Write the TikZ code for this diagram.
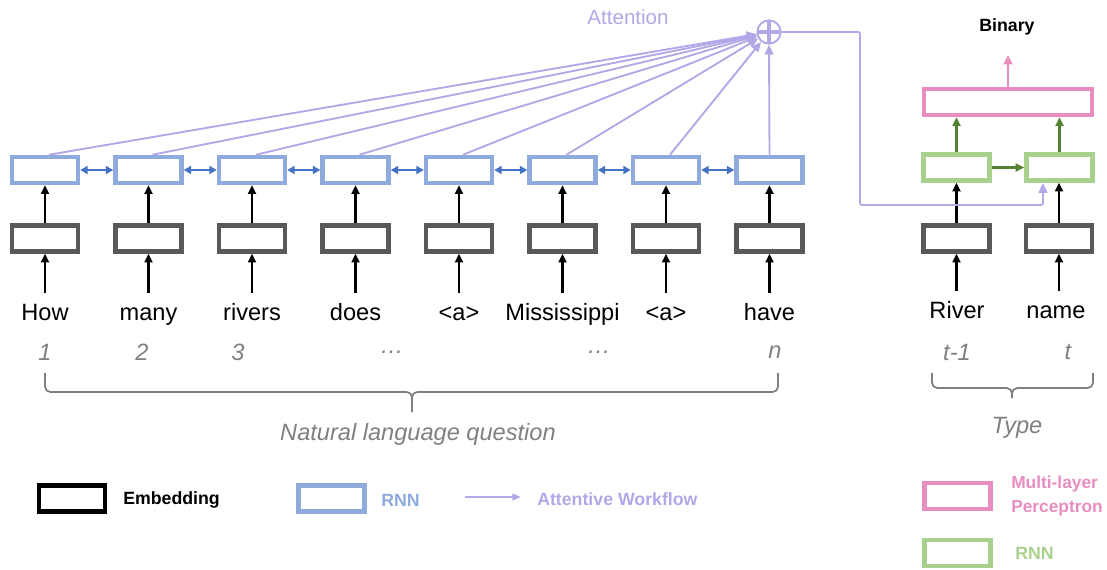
\documentclass[tikz,border=0pt]{standalone}
\usepackage{fontspec}
\setmainfont{Liberation Sans}
\usetikzlibrary{arrows.meta}
\definecolor{rnnblue}{HTML}{8FAADC}
\definecolor{arrblue}{HTML}{4472C4}
\definecolor{attn}{HTML}{B4A7E8}
\definecolor{embgray}{HTML}{595959}
\definecolor{mlppink}{HTML}{E88DBF}
\definecolor{rnngreen}{HTML}{A9D18E}
\definecolor{arrgreen}{HTML}{548235}
\definecolor{txtgray}{HTML}{808080}
\tikzset{
  boxbase/.style={rectangle, inner sep=0pt, minimum width=49.5pt, minimum height=19.5pt, line width=3.4pt},
  rnnbox/.style={boxbase, draw=rnnblue},
  embbox/.style={boxbase, draw=embgray},
  greenbox/.style={boxbase, draw=rnngreen},
  legembbox/.style={boxbase, draw=black},
  word/.style={font=\fontsize{17.7}{20}\selectfont, inner xsep=0pt, inner ysep=7pt, text height=13pt, text depth=0pt},
  idx/.style={font=\fontsize{17.7}{20}\selectfont\itshape, text=txtgray, inner sep=0pt},
  blk/.style={line width=1.7pt, -{Triangle[length=6.5pt,width=6pt]}},
  bidir/.style={draw=arrblue, line width=1.7pt, {Triangle[length=5.5pt,width=6pt]}-{Triangle[length=5.5pt,width=6pt]}},
  attarrow/.style={draw=attn, line width=1.4pt, -{Triangle[length=7.5pt,width=6.5pt]}},
  grn/.style={draw=arrgreen, line width=1.7pt, -{Triangle[length=6.5pt,width=6pt]}},
  brace/.style={draw=txtgray, line width=1.3pt, rounded corners=4pt},
  legtxt/.style={font=\fontsize{13.3}{15.5}\selectfont\bfseries, anchor=west, inner sep=0pt, align=left},
}
\begin{document}
\begin{tikzpicture}[x=0.75pt,y=-0.75pt]
\useasboundingbox (0,0) rectangle (1107,569);
% attention node
\node[circle, draw=attn, line width=1.4pt, minimum size=17.5pt, inner sep=0pt] (plus) at (769,32) {};
\draw[attn, line width=2.8pt] ([yshift=-0.7pt]plus.north) -- ([yshift=0.7pt]plus.south);
\draw[attn, line width=2.8pt] ([xshift=0.7pt]plus.west) -- ([xshift=-0.7pt]plus.east);
\node[font=\fontsize{15.4}{18}\selectfont, text=attn, inner sep=0pt] (atttxt) at (628,17) {Attention};
% question sequence
\foreach \x/\w [count=\i] in {45/How,148.5/many,252/rivers,355.5/does,459/<a>,562.5/Mississippi,666/<a>,769.5/have}{
  \node[rnnbox] (r\i) at (\x,170) {};
  \node[embbox] (e\i) at (\x,238.5) {};
  \node[word, anchor=base] (w\i) at (\x,320) {\w};
  \draw[blk] (e\i.south |- w\i.north) -- (e\i.south);
  \draw[blk] (e\i.north) -- (r\i.south);
}
\foreach \i [evaluate=\i as \j using int(\i+1)] in {1,...,7}{
  \draw[bidir] (r\i.east) -- (r\j.west);
}
\foreach \i in {1,...,7}{
  \draw[attarrow] ([xshift=3pt]r\i.north) -- (plus);
}
\draw[attarrow] (r8.north) -- (plus.south);
% indices
\node[idx] (n1) at (45,352) {1};
\node[idx] (n2) at (142,352) {2};
\node[idx] (n3) at (238,352) {3};
\node[idx] (n4) at (392,352) {\dots};
\node[idx] (n5) at (599,352) {\dots};
\node[idx] (n6) at (775,352) {n};
% brace
\draw[brace] (45,373) -- (45,392) -- (412,392) -- (412,412);
\draw[brace] (412,412) -- (412,392) -- (778,392) -- (778,373);
\node[idx] (nlq) at (418,434) {Natural language question};
% right part
\node[embbox] (e9) at (956.5,238.5) {};
\node[embbox] (e10) at (1059,238.5) {};
\node[greenbox] (g1) at (956.5,167.5) {};
\node[greenbox] (g2) at (1059.5,167.5) {};
\node[rectangle, draw=mlppink, line width=3.4pt, inner sep=0pt, minimum width=126pt, minimum height=19.5pt] (mlp) at (1008,102) {};
\node[word, anchor=base] (w9) at (957,318) {River};
\node[word, anchor=base] (w10) at (1056,318) {name};
\draw[blk] (e9.south |- w9.north) -- (e9.south);
\draw[blk] (e10.south |- w10.north) -- (e10.south);
\draw[blk] (e9.north) -- (g1.south);
\draw[blk] (e10.north) -- (e10.north |- g2.south);
\draw[grn] (g1.north) -- (g1.north |- mlp.south);
\draw[grn] (g2.north) -- (g2.north |- mlp.south);
\draw[grn] (g1.east) -- (g2.west);
\coordinate (binend) at (1008,55);
\draw[draw=mlppink, line width=1.7pt, -{Triangle[length=7pt,width=6.5pt]}] (mlp.north) -- (binend);
\node[font=\fontsize{13.3}{15}\selectfont\bfseries, inner sep=0pt] (binary) at (1007,27) {Binary};
\coordinate (turn) at (860,205);
\draw[attarrow, rounded corners=1pt] (plus.east) -| (turn) -| ([xshift=-12.4pt]g2.south);
\node[idx] (t1) at (957,352) {t-1};
\node[idx] (t2) at (1068,352) {t};
\draw[brace] (932,373) -- (932,388) -- (1012,388) -- (1012,398);
\draw[brace] (1012,398) -- (1012,388) -- (1093,388) -- (1093,373);
\node[idx] (type) at (1017,428) {Type};
% legend
\node[legembbox] (l1) at (72,498.5) {};
\node[legtxt] (l1t) at (123,500) {Embedding};
\node[rnnbox] (l2) at (331.5,498.5) {};
\node[legtxt, text=rnnblue] (l2t) at (381,500) {RNN};
\coordinate (la1) at (465,497);
\coordinate (la2) at (521,497);
\draw[attarrow, -{Triangle[length=6.5pt,width=5pt]}] (la1) -- (la2);
\node[legtxt, text=attn] (l3t) at (537,499) {Attentive Workflow};
\node[rectangle, draw=mlppink, line width=3.4pt, inner sep=0pt, minimum width=49.5pt, minimum height=19.5pt] (l4) at (957.5,496) {};
\node[legtxt, text=mlppink, font=\fontsize{13}{18.5}\selectfont\bfseries] (l4t) at (1011,496) {Multi-layer\\Perceptron};
\node[greenbox] (l5) at (957.5,553) {};
\node[legtxt, text=rnngreen] (l5t) at (1015,553) {RNN};
\end{tikzpicture}
\end{document}
